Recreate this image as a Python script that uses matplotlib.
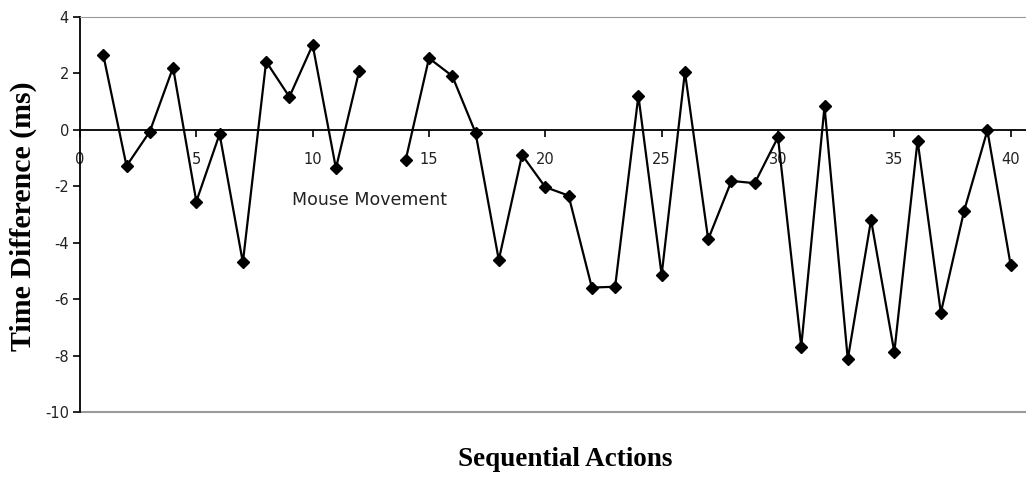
import numpy as np
from matplotlib import pyplot as plt

plt.rcParams['axes.unicode_minus'] = False

# sequential action index and time difference (ms); action 13 has no value
actions = list(range(1, 41))
time_diff = [2.66, -1.28, -0.06, 2.21, -2.54, -0.15, -4.70, 2.42, 1.17, 3.01,
             -1.36, 2.09, np.nan, -1.06, 2.54, 1.91, -0.10, -4.61, -0.89, -2.03,
             -2.33, -5.59, -5.56, 1.21, -5.14, 2.05, -3.88, -1.81, -1.89, -0.26,
             -7.68, 0.83, -8.13, -3.19, -7.88, -0.38, -6.48, -2.87, -0.02, -4.79]
x_ticks = [0, 5, 10, 15, 20, 25, 30, 35, 40]
y_ticks = [-10, -8, -6, -4, -2, 0, 2, 4]

fig = plt.figure(figsize=(10.26, 4.79), dpi=100)
ax = fig.add_axes([80 / 1026, 67 / 479, 946 / 1026, 395 / 479])

ax.plot(actions, time_diff, color='black', linewidth=1.6,
        marker='D', markersize=6.5, markerfacecolor='black', markeredgecolor='black')

ax.set_xlim(0, 40.66)
ax.set_ylim(-10, 4)
ax.set_xticks(x_ticks)
ax.set_yticks(y_ticks)

# x axis runs through zero, plot area has grey top/bottom borders
ax.spines['bottom'].set_position(('data', 0))
ax.spines['bottom'].set_linewidth(1.3)
ax.spines['left'].set_linewidth(1.3)
ax.spines['right'].set_visible(False)
ax.spines['top'].set_color('#999999')
ax.axhline(-10, color='#999999', linewidth=1.5, clip_on=False)

ax.tick_params(axis='x', direction='out', length=5, width=1.2, pad=11, labelsize=10.5, labelcolor='#222222')
ax.tick_params(axis='y', direction='out', length=5, width=1.2, pad=3, labelsize=10.5, labelcolor='#222222')

ax.text(9.1, -2.5, 'Mouse Movement', fontsize=12.5, color='#222222', va='center', ha='left')

fig.text(23 / 1026, 1 - 216 / 479, 'Time Difference (ms)', rotation=90,
         ha='center', va='center', fontsize=21.5, fontweight='bold', family='Liberation Serif')
fig.text(565 / 1026, 1 - 460 / 479, 'Sequential Actions', ha='center', va='center',
         fontsize=19.5, fontweight='bold', family='Liberation Serif')

fig.savefig('out.png', dpi=100)
